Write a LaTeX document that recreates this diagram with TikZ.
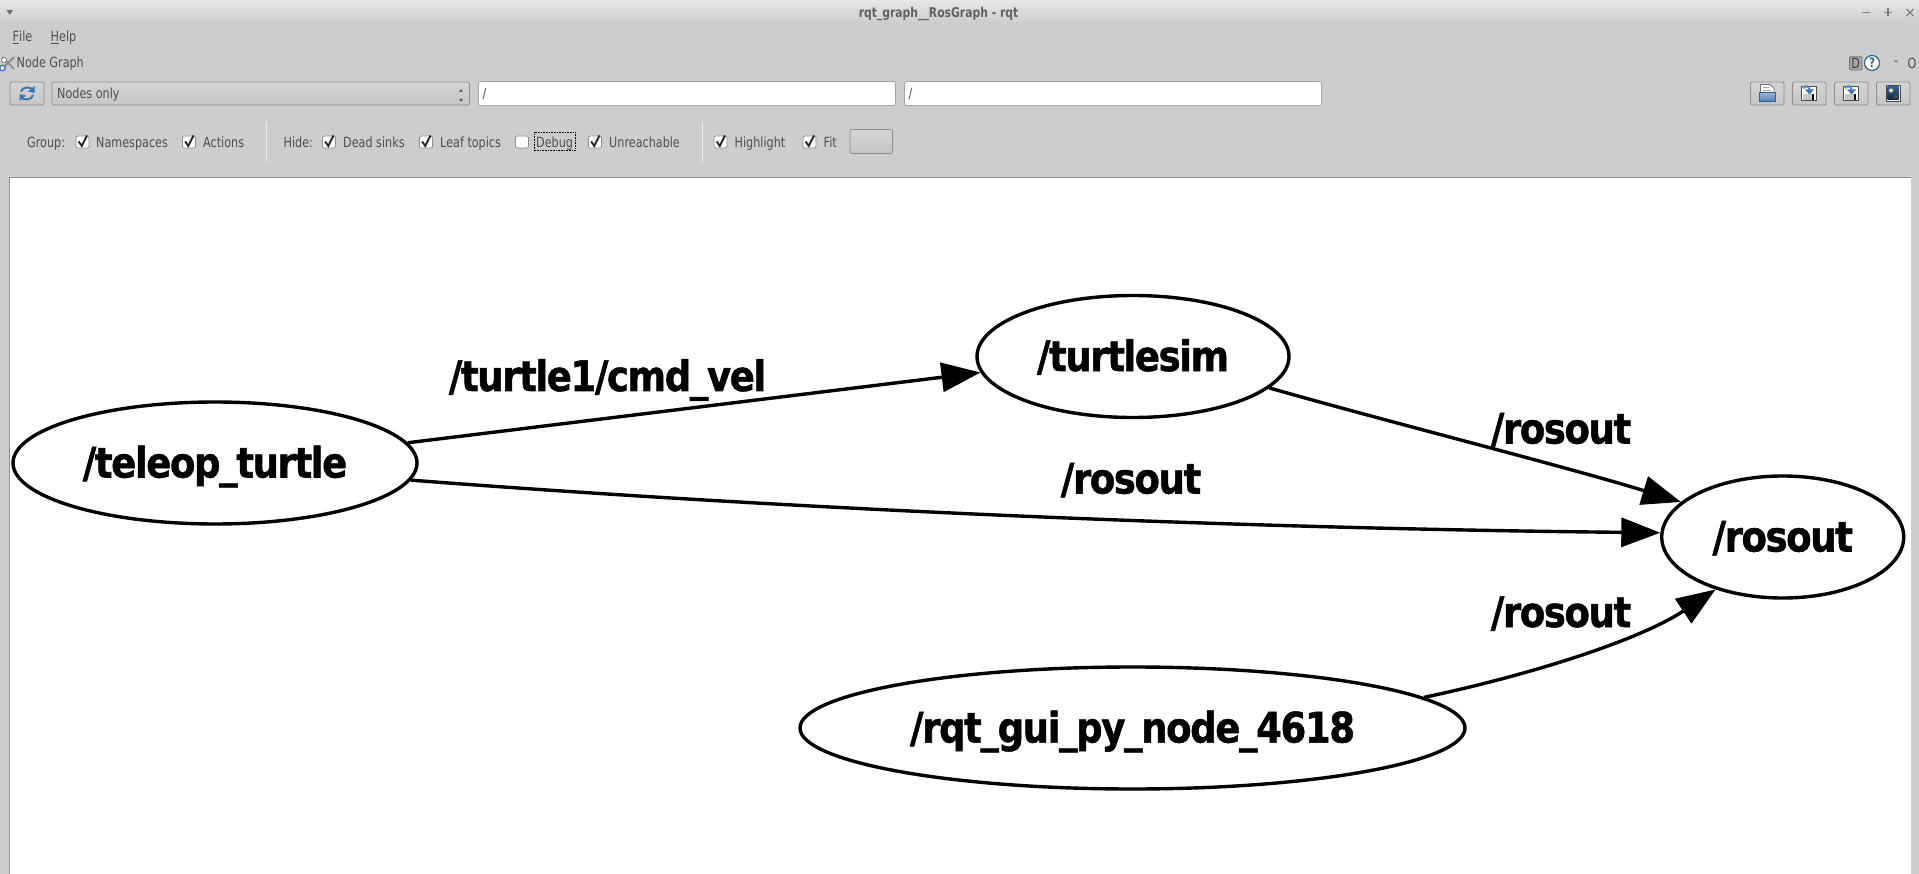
\documentclass[tikz,border=0pt]{standalone}
\usepackage{fontspec}
\usetikzlibrary{arrows.meta,shapes.geometric}
\newfontfamily\gf[FakeStretch=0.88,FakeBold=1.2,LetterSpace=-3.2]{DejaVu Sans}
\newfontfamily\uif[FakeStretch=0.8]{DejaVu Sans}
\definecolor{panel}{HTML}{CDCDCD}
\definecolor{uitx}{HTML}{4F4F4F}
\definecolor{frameg}{HTML}{8E8E8E}
\definecolor{iconb}{HTML}{3F75B5}
\tikzset{
  gnode/.style={draw=black,line width=3.4pt,ellipse,fill=white,inner sep=0pt,font=\gf\bfseries\fontsize{42}{42}\selectfont,text height=35pt,text depth=6pt},
  glabel/.style={inner sep=0pt,anchor=base,font=\gf\bfseries\fontsize{42}{42}\selectfont},
  edge/.style={draw=black,line width=3.4pt,-{Triangle[length=39pt,width=29pt]}},
  ui/.style={inner sep=0pt,anchor=base west,text=uitx,font=\uif\fontsize{14}{14}\selectfont},
  btn/.style={draw=frameg,line width=0.8pt,rounded corners=2pt,top color=white!15!panel,bottom color=black!4!panel},
  field/.style={draw=frameg!80,line width=0.8pt,rounded corners=2pt,fill=white},
  sep/.style={draw=white!60!panel,line width=1pt},
  cbox/.style={draw=frameg,line width=0.7pt,rounded corners=2pt,fill=white},
  ck/.style={draw=black!85,line width=1.9pt,line join=miter},
  winbtn/.style={draw=black!50,line width=1.3pt},
  refr/.style={draw=iconb,line width=2pt},
}
\newcommand{\cbx}[2]{\draw[cbox] (#1,136) rectangle ++(13,12);\ifnum#2=1 \draw[ck] (#1+2.6,141.5) -- (#1+5.8,146) -- (#1+11,135.5);\fi}
\newcommand{\tbtn}[1]{\draw[btn] (#1,82) rectangle ++(33.5,23);}
\newcommand{\saveicon}[1]{
  \draw[fill=white,draw=black!70,line width=0.7pt] (#1,86) rectangle ++(15,14.5);
  \fill[black!22] (#1+1,94.5) rectangle ++(13,5.5);
  \fill[white] (#1+11,94.5) rectangle ++(3,5.5);
  \fill[black] (#1+10.6,94.5) rectangle ++(1.4,6);
  \draw[iconb!85,line width=2.2pt] (#1+1.5,88) .. controls (#1+4,85.5) and (#1+8,85.5) .. (#1+8,90);
  \fill[iconb] (#1+3.5,89.5) -- (#1+12.5,89.5) -- (#1+8,94.5) -- cycle;
}
\begin{document}
\begin{tikzpicture}[x=1pt,y=-1pt]
\useasboundingbox (0,0) rectangle (1919,874);
\fill[panel] (0,0) rectangle (1919,874);
\shade[top color=black!10,bottom color=panel] (0,1) rectangle (1919,23);
% title bar
\fill[black!55] (6.5,10) -- (13,10) -- (9.75,15) -- cycle;
\node[ui,anchor=base,text=black!62,font=\uif\bfseries\fontsize{13.5}{14}\selectfont] (title) at (938.5,17.5) {rqt\_graph\_\_RosGraph - rqt};
\draw[winbtn] (1861.5,12.5) -- (1870,12.5);
\draw[winbtn] (1884,12.5) -- (1892,12.5) (1888,8.5) -- (1888,16.5);
\draw[winbtn] (1906.5,9) -- (1913.5,16) (1906.5,16) -- (1913.5,9);
% menu
\node[ui] (file) at (12.5,41.5) {\underline{F}ile};
\node[ui] (help) at (50.5,41.5) {\underline{H}elp};
% plugin title
\draw[black!45,line width=1.8pt] (3,68) -- (14,57);
\draw[black!45,line width=1.6pt] (2.5,57) -- (14,69);
\draw[fill=white,draw=black!55,line width=0.8pt] (4,60) circle (2.5);
\draw[fill=white,draw=iconb,line width=1.3pt] (2.5,68) ellipse (2.8 and 2.8);
\node[ui] (ngraph) at (16.5,68) {Node Graph};
\draw[fill=black!35,draw=black!55,line width=0.7pt,rounded corners=1pt] (1849.5,56.7) rectangle (1862,70);
\node[ui,anchor=center,text=black!75] (dbadge) at (1855.7,63.3) {D};
\draw[fill=white,draw=iconb!80!black,line width=1.2pt] (1872,63) ellipse (7.5 and 7.5);
\node[ui,anchor=center,text=iconb!80!black,font=\uif\bfseries\fontsize{13}{13}\selectfont] (qmark) at (1872,63) {?};
\node[ui,anchor=center] (dash) at (1896,63) {-};
\node[ui,anchor=center] (oh) at (1912,63) {O};
% toolbar row
\draw[btn] (10,82) rectangle (44,105);
\draw[refr] (21,91.5) .. controls (22,87) and (30,86) .. (33,90);
\fill[iconb] (34.5,86) -- (34.5,93) -- (28,91.5) -- cycle;
\draw[refr] (33,95) .. controls (32,100) and (24,101) .. (21,97);
\fill[iconb] (19.5,101) -- (19.5,94) -- (26,95.5) -- cycle;
\draw[btn] (52,82) rectangle (469.5,105);
\node[ui] (combo) at (57,98.5) {Nodes only};
\fill[black!60] (459,92) -- (463,92) -- (461,89) -- cycle;
\fill[black!60] (459,99) -- (463,99) -- (461,102) -- cycle;
\draw[field] (478.5,81.5) rectangle (895.5,105.5);
\node[ui] (f1) at (482.5,98.5) {/};
\draw[field] (904.5,81.5) rectangle (1321.5,105.5);
\node[ui] (f2) at (908.5,98.5) {/};
\tbtn{1750.5}\tbtn{1792.5}\tbtn{1834.5}\tbtn{1876.5}
% open icon
\draw[fill=white,draw=black!55,line width=0.7pt] (1760.5,93) -- (1760.5,84.5) -- (1770,84.5) -- (1774,88.5) -- (1774,93);
\draw[black!35,line width=0.8pt] (1763,87.5) -- (1769,87.5) (1763,90) -- (1771,90);
\draw[top color=iconb!55,bottom color=iconb!90,draw=iconb!80!black,line width=0.8pt] (1759.5,92.5) rectangle (1775,101.5);
\saveicon{1801.5}
\saveicon{1843.5}
\draw[fill=black!8,draw=black!70,line width=0.7pt] (1886,85.5) rectangle (1900,101);
\shade[top color=iconb!80!black,bottom color=iconb!35!black] (1887.5,87) rectangle (1898.5,99.5);
\fill[white!80!yellow] (1891,90.5) circle (2);
\fill[black!65] (1894,98) -- (1896,94) -- (1898,98) -- cycle;
% option row
\node[ui] (grp) at (27,147.5) {Group:};
\cbx{76}{1}
\node[ui] (ns) at (96,147.5) {Namespaces};
\cbx{182.5}{1}
\node[ui] (act) at (203,147.5) {Actions};
\draw[sep] (266,122) -- (266,162);
\node[ui] (hide) at (283.5,147.5) {Hide:};
\cbx{322.5}{1}
\node[ui] (dead) at (343,147.5) {Dead sinks};
\cbx{419.5}{1}
\node[ui] (leaf) at (440,147.5) {Leaf topics};
\cbx{515.5}{0}
\node[ui] (dbg) at (536,147.5) {Debug};
\draw[black,line width=0.6pt,densely dotted] (534,132.5) rectangle (575,150.5);
\cbx{588.5}{1}
\node[ui] (unr) at (609,147.5) {Unreachable};
\draw[sep] (702,122) -- (702,162);
\cbx{714}{1}
\node[ui] (hl) at (734.5,147.5) {Highlight};
\cbx{803}{1}
\node[ui] (fit) at (823.5,147.5) {Fit};
\draw[btn] (850,129.5) rectangle (892.5,153.5);
% canvas
\fill[white] (9.5,177.5) rectangle (1911,874);
\draw[frameg,line width=1pt] (9.5,874) -- (9.5,177.5) -- (1911,177.5);
% graph
\node[gnode,minimum width=404pt,minimum height=122pt] (teleop) at (215,463) {/teleop\_turtle};
\node[gnode,minimum width=312pt,minimum height=122pt] (turtlesim) at (1133,356.5) {/turtlesim};
\node[gnode,minimum width=242pt,minimum height=122pt] (rosout) at (1782.7,537) {/rosout};
\node[gnode,minimum width=665pt,minimum height=122pt] (rqt) at (1132.5,728) {/rqt\_gui\_py\_node\_4618};
\draw[edge] (teleop.6.75) -- (turtlesim.186.3);
\draw[edge] (teleop.-5.5) .. controls (760,507) and (1200,528) .. (rosout.178.6);
\draw[edge] (turtlesim.-13.8) .. controls (1400,425) and (1560,465) .. (rosout.161.8);
\draw[edge] (rqt.6.2) .. controls (1530,675) and (1640,640) .. (rosout.218.8);
\node[glabel] (l1) at (607.5,391) {/turtle1/cmd\_vel};
\node[glabel] (l2) at (1131,493.5) {/rosout};
\node[glabel] (l3) at (1561,443.5) {/rosout};
\node[glabel] (l4) at (1561,627) {/rosout};
\end{tikzpicture}
\end{document}
